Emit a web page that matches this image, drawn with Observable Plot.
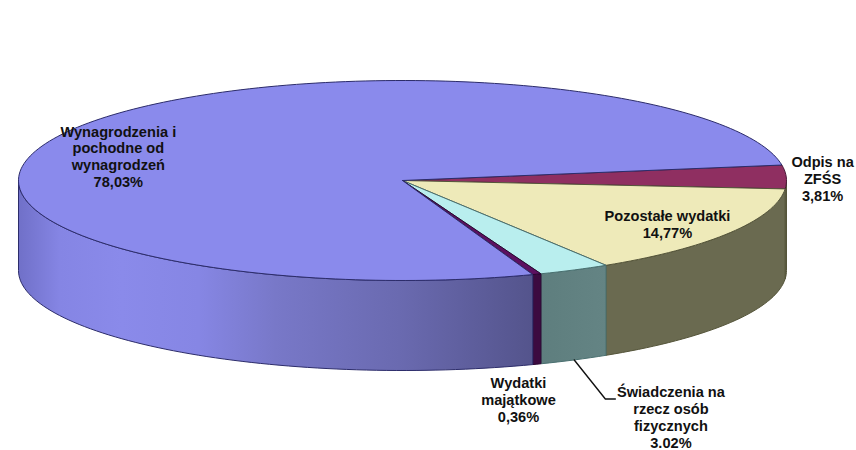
<!DOCTYPE html>
<html><head><meta charset="utf-8">
<style>html,body{margin:0;padding:0;background:#fff}</style>
<script src="https://cdn.jsdelivr.net/npm/d3@7"></script>
<script src="https://cdn.jsdelivr.net/npm/@observablehq/plot@0.6"></script>
</head><body>
<div id="chart"></div>
<script>
// Data, clockwise from the start angle of the pie
const categories = ["Odpis na ZFŚS", "Pozostałe wydatki", "Świadczenia na rzecz osób fizycznych", "Wydatki majątkowe", "Wynagrodzenia i pochodne od wynagrodzeń"];
const shares = [3.81, 14.77, 3.02, 0.36, 78.03];
const labels = ["Odpis na\nZFŚS\n3,81%", "Pozostałe wydatki\n14,77%", "Świadczenia na\nrzecz osób\nfizycznych\n3.02%", "Wydatki\nmajątkowe\n0,36%", "Wynagrodzenia i\npochodne od\nwynagrodzeń\n78,03%"];

// Styling
const topColors = ["#8f2f61", "#eeeab9", "#b9eeee", "#5c1060", "#8a8aec"];
const edgeColors = ["#4a1a38", "#55553a", "#4a7070", "#2a0530", "#2c2c6a"];
const wallEdges = ["#55553a", "#55553a", "#4a7070", "#2a0530", "#2c2c6a"];
const wallFills = ["#6a6a50", "#6a6a50", "url(#wall2)", "#3c0a40", "url(#wall4)"];

// Layout: unit disc mapped on to the ellipse of the top face
const startAngle = -8.9, wallDepth = 0.9;
const cx = 402, cy = 180, rx = 384, ry = 100;
// label centres in disc units
const labelX = [1.094, 0.69, 0.699, 0.302, -0.74];
const labelY = [-0.02, 0.44, 2.365, 2.19, -0.24];

const total = d3.sum(shares);
let acc = startAngle;
const slices = shares.map((v, i) => {
  const a0 = acc, a1 = acc + v / total * 360;
  acc = a1;
  return {i, a0, a1, mid: (a0 + a1) / 2};
});
const rad = Math.PI / 180;
const arc = (a0, a1) => {
  const n = Math.max(2, Math.ceil((a1 - a0) / 1.5));
  return d3.range(n + 1).map(k => {
    const a = (a0 + (a1 - a0) * k / n) * rad;
    return {x: Math.cos(a), y: Math.sin(a)};
  });
};
const topPoly = s => [{x: 0, y: 0}, ...arc(s.a0, s.a1), {x: 0, y: 0}];
const drop = p => ({x: p.x, y: p.y + wallDepth});
const wallPoly = s => {
  const a0 = Math.max(s.a0, 0), a1 = Math.min(s.a1, 180);
  if (a1 <= a0) return null;
  const rim = arc(a0, a1);
  return [...rim, ...rim.slice().reverse().map(drop), rim[0]];
};
const attrs = {x: "x", y: "y", curve: "linear"};

const gradient = (id, stops) => () => {
  const g = d3.create("svg:linearGradient").attr("id", id);
  stops.forEach(([o, c]) => g.append("stop").attr("offset", o).attr("stop-color", c));
  return d3.create("svg:defs").call(d => d.node().appendChild(g.node())).node();
};

const lead = slices[2];
const leadStart = drop({x: Math.cos(lead.mid * rad), y: Math.sin(lead.mid * rad)});
const leader = [leadStart, {x: leadStart.x + 0.081, y: leadStart.y + 0.39}, {x: leadStart.x + 0.107, y: leadStart.y + 0.39}];

const marks = [
  gradient("wall4", [[0, "#7070c8"], [0.08, "#8585e4"], [0.2, "#8a8aea"], [0.35, "#8686e4"], [0.5, "#7878c8"], [0.74, "#6a6ab0"], [1, "#54548c"]]),
  gradient("wall2", [[0, "#5e7e7e"], [1, "#648484"]])
];
slices.forEach(s => {
  const w = wallPoly(s);
  if (w) marks.push(Plot.line(w, {...attrs, fill: wallFills[s.i], stroke: wallEdges[s.i], strokeWidth: 1}));
});
slices.forEach(s => {
  marks.push(Plot.line(topPoly(s), {...attrs, fill: topColors[s.i], stroke: edgeColors[s.i], strokeWidth: 1}));
});
marks.push(Plot.line(leader, {...attrs, stroke: "#111", strokeWidth: 1.4}));
marks.push(Plot.text(labels, {
  x: (d, i) => labelX[i], y: (d, i) => labelY[i], text: d => d,
  fontSize: 14.6, fontWeight: "bold", fill: "#111", lineHeight: 1.16, lineAnchor: "middle", textAnchor: "middle"
}));

const plot = Plot.plot({
  width: 856, height: 450,
  margin: 0,
  x: {type: "linear", domain: [-cx / rx, (856 - cx) / rx], range: [0, 856], axis: null},
  y: {type: "linear", domain: [-cy / ry, (450 - cy) / ry], range: [0, 450], axis: null},
  style: {fontFamily: "'Liberation Sans', Arial, sans-serif", background: "#fff"},
  marks
});
document.getElementById("chart").appendChild(plot);
</script>
</body></html>
